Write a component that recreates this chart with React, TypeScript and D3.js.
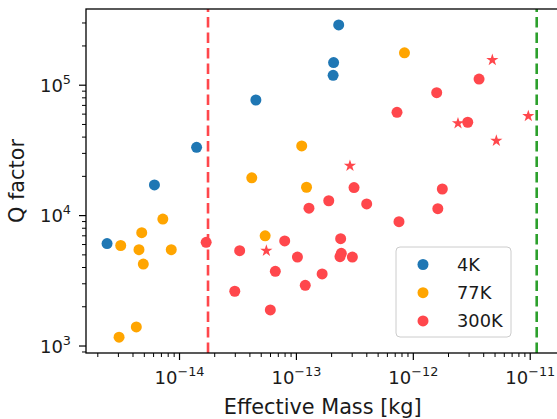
import * as d3 from "d3";

// 4K samples
const blueMass = [2.4e-15, 6.1e-15, 1.4e-14, 4.5e-14, 2.3e-13, 2.08e-13, 2.06e-13];
const blueQ = [6100, 17200, 33400, 77000, 290000, 149000, 119000];

// 77K samples
const orangeMass = [8.4e-13, 1.11e-13, 4.15e-14, 1.22e-13, 7.2e-15, 4.75e-15, 3.14e-15, 4.5e-15, 8.5e-15, 4.9e-15, 5.4e-14, 3.04e-15, 4.27e-15];
const orangeQ = [177000, 34200, 19500, 16500, 9400, 7400, 5900, 5480, 5480, 4250, 7000, 1170, 1400];

// 300K samples (circles)
const redMass = [1.69e-14, 3.27e-14, 2.97e-14, 5.98e-14, 6.6e-14, 7.94e-14, 1.02e-13, 1.19e-13, 1.28e-13, 1.66e-13, 1.89e-13, 2.39e-13, 2.42e-13, 2.36e-13, 3.01e-13, 3.11e-13, 3.99e-13, 7.54e-13, 7.25e-13, 1.585e-12, 1.77e-12, 1.62e-12, 2.92e-12, 3.65e-12];
const redQ = [6240, 5380, 2630, 1890, 3740, 6390, 4810, 2920, 11400, 3570, 13000, 6650, 5140, 4840, 4810, 16400, 12300, 8980, 62000, 87600, 16000, 11300, 52000, 111500];

// 300K samples (stars)
const starMass = [5.53e-14, 2.87e-13, 2.41e-12, 4.74e-12, 5.13e-12, 9.63e-12];
const starQ = [5380, 24100, 51000, 156000, 37500, 58000];

// vertical reference lines
const redLineMass = 1.753e-14;
const greenLineMass = 1.136e-11;

const xMajor = [-14, -13, -12, -11];
const yMajor = [3, 4, 5];
const legendLabels = ["4K", "77K", "300K"];

const BLUE = "#1f77b4";
const ORANGE = "#ffa500";
const RED = "#ff474c";
const GREEN = "#2ca02c";
const FONT = "DejaVu Sans, sans-serif";

const W = 557;
const H = 419;
const m = { left: 86, right: 559.5, top: 9, bottom: 353 };

export default function App() {
  const x = d3.scaleLog().domain([1.585e-15, 1.78e-11]).range([m.left, m.right]);
  const y = d3.scaleLog().domain([884, 384000]).range([m.bottom, m.top]);

  const [x0, x1] = x.domain();
  const [y0, y1] = y.domain();
  const minors = (lo: number, hi: number, from: number, to: number) => {
    const out: number[] = [];
    for (let k = from; k <= to; k++) {
      for (let j = 2; j <= 9; j++) {
        const v = j * Math.pow(10, k);
        if (v >= lo && v <= hi) out.push(v);
      }
    }
    return out;
  };
  const xMinor = minors(x0, x1, -16, -11);
  const yMinor = minors(y0, y1, 2, 5);

  const star = d3.symbol().type(d3.symbolStar).size(46)()!;
  const r = 5.5;

  const legendX = 396;
  const legendY = 247;

  return (
    <svg width={W} height={H} style={{ position: "fixed", left: 0, top: 0, background: "#fff" }} fontFamily={FONT}>
      <defs>
        <clipPath id="plot">
          <rect x={m.left} y={m.top} width={m.right - m.left} height={m.bottom - m.top} />
        </clipPath>
      </defs>

      <g clipPath="url(#plot)">
        {blueMass.map((d, i) => (
          <circle key={"b" + i} cx={x(d)} cy={y(blueQ[i])} r={r} fill={BLUE} />
        ))}
        {orangeMass.map((d, i) => (
          <circle key={"o" + i} cx={x(d)} cy={y(orangeQ[i])} r={r} fill={ORANGE} />
        ))}
        {redMass.map((d, i) => (
          <circle key={"r" + i} cx={x(d)} cy={y(redQ[i])} r={r} fill={RED} />
        ))}
        {starMass.map((d, i) => (
          <path key={"s" + i} d={star} transform={`translate(${x(d)},${y(starQ[i])})`} fill={RED} />
        ))}
        <line x1={x(redLineMass)} x2={x(redLineMass)} y1={m.bottom} y2={m.top}
          stroke={RED} strokeWidth={2.6} strokeDasharray="10.5,5" />
        <line x1={x(greenLineMass)} x2={x(greenLineMass)} y1={m.bottom} y2={m.top}
          stroke={GREEN} strokeWidth={2.6} strokeDasharray="10.5,5" />
      </g>

      {/* spines */}
      <rect x={m.left} y={m.top} width={m.right - m.left} height={m.bottom - m.top}
        fill="none" stroke="#000" strokeWidth={1.3} />

      {/* x ticks */}
      {xMinor.map((v, i) => (
        <line key={"xm" + i} x1={x(v)} x2={x(v)} y1={m.bottom} y2={m.bottom + 4} stroke="#000" strokeWidth={1} />
      ))}
      {xMajor.map((k) => (
        <g key={"x" + k} transform={`translate(${x(Math.pow(10, k))},0)`}>
          <line y1={m.bottom} y2={m.bottom + 7} stroke="#000" strokeWidth={1.2} />
          <text y={384} textAnchor="middle" fontSize={18} fill="#1a1a1a">
            10<tspan dy={-8} fontSize={12.8}>{"\u2212" + Math.abs(k)}</tspan>
          </text>
        </g>
      ))}

      {/* y ticks */}
      {yMinor.map((v, i) => (
        <line key={"ym" + i} x1={m.left - 4} x2={m.left} y1={y(v)} y2={y(v)} stroke="#000" strokeWidth={1} />
      ))}
      {yMajor.map((k) => (
        <g key={"y" + k} transform={`translate(0,${y(Math.pow(10, k))})`}>
          <line x1={m.left - 7} x2={m.left} stroke="#000" strokeWidth={1.2} />
          <text x={71} y={6.7} textAnchor="end" fontSize={18} fill="#1a1a1a">
            10<tspan dy={-8} fontSize={12.8}>{k}</tspan>
          </text>
        </g>
      ))}

      {/* axis labels */}
      <text x={(m.left + m.right) / 2} y={414} textAnchor="middle" fontSize={20.8} fill="#1a1a1a">
        Effective Mass [kg]
      </text>
      <text transform={`translate(24,${(m.top + m.bottom) / 2}) rotate(-90)`} textAnchor="middle" fontSize={20.8} fill="#1a1a1a">
        Q factor
      </text>

      {/* legend */}
      <rect x={legendX} y={legendY} width={115} height={90} rx={4}
        fill="#fff" fillOpacity={0.8} stroke="#cccccc" strokeWidth={1} />
      {legendLabels.map((lab, i) => (
        <g key={lab} transform={`translate(0,${legendY + 17.5 + i * 28.2})`}>
          <circle cx={423} cy={0} r={r} fill={[BLUE, ORANGE, RED][i]} />
          <text x={457} y={6.3} fontSize={17.8} fill="#1a1a1a">{lab}</text>
        </g>
      ))}
    </svg>
  );
}
